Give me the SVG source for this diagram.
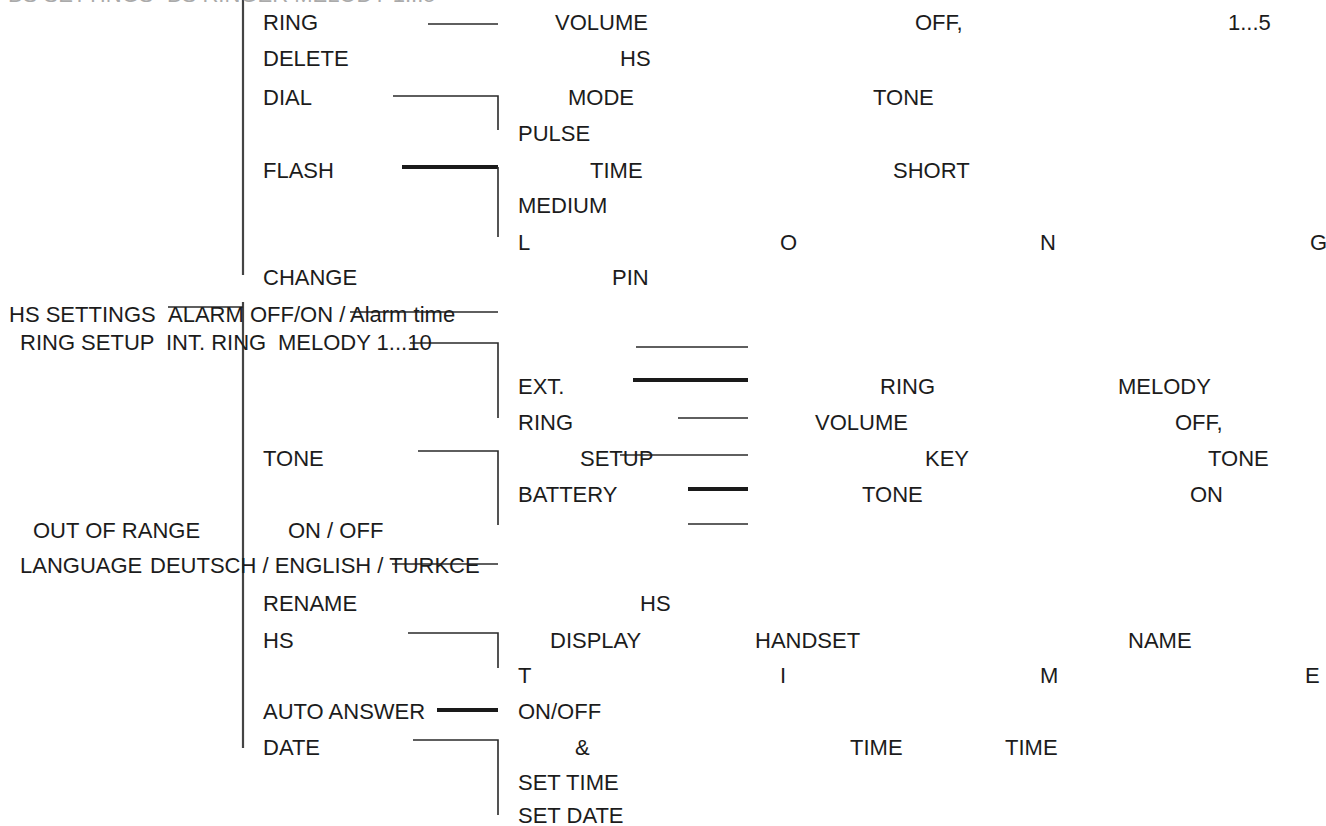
<svg xmlns="http://www.w3.org/2000/svg" width="1326" height="826" viewBox="0 0 1326 826">
<style>
text{font-family:"Liberation Sans",Arial,sans-serif;font-size:22px;fill:#1c1c1c}
.faint{fill:#aaa}
.thin{stroke:#2a2a2a;stroke-width:1.6;fill:none}
.thick{stroke:#1a1a1a;stroke-width:4;fill:none}
.vl{stroke:#444;stroke-width:2.2;fill:none}
</style>
<rect width="1326" height="826" fill="#fff"/>
<g id="connectors">
<line class="vl" x1="243" y1="0" x2="243" y2="275"/>
<line class="vl" x1="243" y1="302" x2="243" y2="748"/>
<line class="thin" x1="428" y1="24" x2="498" y2="24"/>
<polyline class="thin" points="393,96 498,96 498,130"/>
<polyline class="thick" points="402,167 498,167"/>
<polyline class="thin" points="498,167 498,237"/>
<line class="thin" x1="168" y1="307" x2="243" y2="307"/>
<line class="thin" x1="350" y1="312" x2="498" y2="312"/>
<polyline class="thin" points="410,343 498,343 498,418"/>
<line class="thin" x1="636" y1="347" x2="748" y2="347"/>
<line class="thick" x1="633" y1="380" x2="748" y2="380"/>
<line class="thin" x1="678" y1="418" x2="748" y2="418"/>
<polyline class="thin" points="418,451 498,451 498,525"/>
<line class="thin" x1="620" y1="455" x2="748" y2="455"/>
<line class="thick" x1="688" y1="489" x2="748" y2="489"/>
<line class="thin" x1="688" y1="524" x2="748" y2="524"/>
<line class="thin" x1="392" y1="564" x2="498" y2="564"/>
<polyline class="thin" points="408,633 498,633 498,668"/>
<line class="thick" x1="437" y1="710" x2="498" y2="710"/>
<polyline class="thin" points="413,740 498,740 498,815"/>
</g>
<g id="n-top"><text class="faint" x="8" y="2">BS SETTINGS</text><text class="faint" x="167" y="2">BS RINGER  MELODY 1...5</text></g>
<g id="n-ring"><text x="263" y="30">RING</text><text x="555" y="30">VOLUME</text><text x="915" y="30">OFF,</text><text x="1228" y="30">1...5</text></g>
<g id="n-delete"><text x="263" y="66">DELETE</text><text x="620" y="66">HS</text></g>
<g id="n-dial"><text x="263" y="105">DIAL</text><text x="568" y="105">MODE</text><text x="873" y="105">TONE</text><text x="518" y="141">PULSE</text></g>
<g id="n-flash"><text x="263" y="178">FLASH</text><text x="590" y="178">TIME</text><text x="893" y="178">SHORT</text><text x="518" y="213">MEDIUM</text>
<text x="518" y="250">L</text><text x="780" y="250">O</text><text x="1040" y="250">N</text><text x="1310" y="250">G</text></g>
<g id="n-change"><text x="263" y="285">CHANGE</text><text x="612" y="285">PIN</text></g>
<g id="n-hs-settings"><text x="9" y="322">HS SETTINGS</text><text x="168" y="322">ALARM</text><text x="250" y="322">OFF/ON /</text><text x="350" y="322">Alarm time</text></g>
<g id="n-ring-setup"><text x="20" y="350">RING SETUP</text><text x="166" y="350">INT. RING</text><text x="278" y="350">MELODY 1...10</text></g>
<g id="n-ext"><text x="518" y="394">EXT.</text><text x="880" y="394">RING</text><text x="1118" y="394">MELODY</text></g>
<g id="n-ring2"><text x="518" y="430">RING</text><text x="815" y="430">VOLUME</text><text x="1175" y="430">OFF,</text></g>
<g id="n-tone"><text x="263" y="466">TONE</text><text x="580" y="466">SETUP</text><text x="925" y="466">KEY</text><text x="1208" y="466">TONE</text></g>
<g id="n-battery"><text x="518" y="502">BATTERY</text><text x="862" y="502">TONE</text><text x="1190" y="502">ON</text></g>
<g id="n-out-of-range"><text x="33" y="538">OUT OF RANGE</text><text x="288" y="538">ON / OFF</text></g>
<g id="n-language"><text x="20" y="573">LANGUAGE</text><text x="150" y="573">DEUTSCH / ENGLISH / TURKCE</text></g>
<g id="n-rename"><text x="263" y="611">RENAME</text><text x="640" y="611">HS</text></g>
<g id="n-hs"><text x="263" y="648">HS</text><text x="550" y="648">DISPLAY</text><text x="755" y="648">HANDSET</text><text x="1128" y="648">NAME</text>
<text x="518" y="683">T</text><text x="780" y="683">I</text><text x="1040" y="683">M</text><text x="1305" y="683">E</text></g>
<g id="n-auto-answer"><text x="263" y="719">AUTO ANSWER</text><text x="518" y="719">ON/OFF</text></g>
<g id="n-date"><text x="263" y="755">DATE</text><text x="575" y="755">&amp;</text><text x="850" y="755">TIME</text><text x="1005" y="755">TIME</text>
<text x="518" y="790">SET TIME</text><text x="518" y="823">SET DATE</text></g>
</svg>
